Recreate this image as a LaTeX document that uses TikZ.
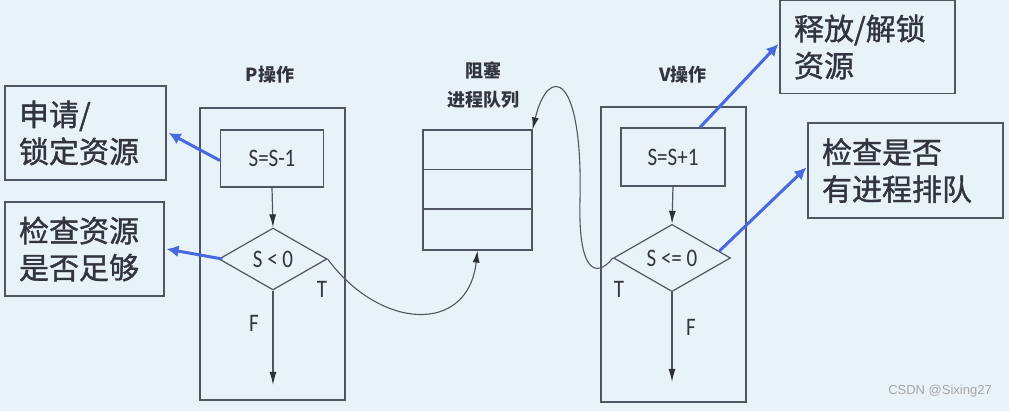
\documentclass[tikz,border=0pt]{standalone}
\usepackage{fontspec}
\usepackage{graphicx}
\setmainfont{Carlito}
\newfontfamily\cjk{Noto Sans CJK SC}
\newfontfamily\cjknote{Noto Sans CJK SC}[FakeBold=1.2]
\newfontfamily\wmfont{Liberation Sans}
\usetikzlibrary{shapes.geometric,arrows.meta,calc}
\definecolor{bg}{RGB}{232,243,249}
\definecolor{ln}{RGB}{80,85,100}
\definecolor{tip}{RGB}{45,48,60}
\definecolor{tx}{RGB}{50,53,65}
\definecolor{bl}{RGB}{72,105,222}
\newcommand{\tall}[1]{\scalebox{1}[1.2]{#1}}
\begin{document}
\begin{tikzpicture}[x=1pt,y=-1pt,
  frame/.style={draw=ln,line width=1.2pt,inner sep=0pt},
  note/.style={draw=ln,line width=1.2pt,inner xsep=14pt,inner ysep=0pt,align=left,
    text=tx,font=\cjknote\fontsize{30}{37}\selectfont},
  opbox/.style={draw=ln,line width=1.2pt,inner sep=0pt,text=tx,font=\fontsize{21}{24}\selectfont},
  cond/.style={diamond,draw=ln,line width=1.2pt,inner sep=0pt,text=tx,font=\fontsize{21}{24}\selectfont},
  title/.style={text=tx,font=\cjk\bfseries\fontsize{18}{29}\selectfont,align=center},
  tf/.style={text=tx,font=\fontsize{21}{24}\selectfont},
  flow/.style={draw=ln,line width=1.2pt,-{Latex[length=13pt,width=7pt,color=tip]}},
  curve/.style={draw=ln,line width=1.1pt,-{Latex[length=12pt,width=7pt,color=tip]}},
  hint/.style={draw=bl,line width=3pt,-{Latex[length=12pt,width=12pt]}}]
\fill[bg] (0,0) rectangle (1009,411);
\useasboundingbox (0,0) rectangle (1009,411);

% P operation
\node[frame,minimum width=145,minimum height=292] (pbox) at (272.5,254) {};
\node[title] (ptitle) at (270,75) {P操作};
\node[opbox,minimum width=103,minimum height=57] (sP) at (272,158.5) {\tall{S=S-1}};
\node[cond,minimum width=108,minimum height=62] (dP) at (273,259) {\tall{S < 0}};
\coordinate (pend) at (273,385);
\node[tf] (tP) at (322,289) {\tall{T}};
\node[tf] (fP) at (254,323) {\tall{F}};

% queue
\node[frame,minimum width=109,minimum height=120] (queue) at (477.5,190) {};
\draw[ln,line width=1.2pt] ($(queue.north west)!0.333!(queue.south west)$) -- ($(queue.north east)!0.333!(queue.south east)$);
\draw[ln,line width=1.8pt] ($(queue.north west)!0.66!(queue.south west)$) -- ($(queue.north east)!0.66!(queue.south east)$);
\node[title] (qtitle) at (483,85) {阻塞\\进程队列};

% V operation
\node[frame,minimum width=145,minimum height=295] (vbox) at (673.5,254.5) {};
\node[title] (vtitle) at (683,75) {V操作};
\node[opbox,minimum width=104,minimum height=58] (sV) at (673,157) {\tall{S=S+1}};
\node[cond,minimum width=117,minimum height=60] (dV) at (672,258) {\tall{S <= 0}};
\coordinate (vend) at (672,382);
\node[tf] (tV) at (619,289) {\tall{T}};
\node[tf] (fV) at (691,327) {\tall{F}};

% notes
\node[note,text width=133,minimum height=94] (req) at (85.5,133) {申请/\\锁定资源};
\node[note,text width=131,minimum height=94] (chk) at (84.5,249) {检查资源\\是否足够};
\node[note,text width=147,minimum height=93] (rel) at (867.5,47) {释放/解锁\\资源};
\node[note,text width=167,minimum height=95] (hv) at (905.5,170.5) {检查是否\\有进程排队};

% flow arrows
\draw[flow] (sP.south) -- (dP.north);
\draw[flow] (dP.south) -- (pend);
\draw[flow] (sV.south) -- (dV.north);
\draw[flow] (dV.south) -- (vend);

% curves
\draw[curve] (dP.east) .. controls (380,330) and (468,335) .. (queue.south);
\coordinate (loop) at (580,200);
\draw[curve] (dV.west) .. controls (595,280) and (578,270) .. (loop)
   .. controls (583,70) and (548,65) .. (queue.north east);

% hint arrows
\draw[hint] ([yshift=-2pt]sP.west) -- ([xshift=2pt]req.east);
\draw[hint] ([xshift=4pt]dP.west) -- ([xshift=2pt]chk.east);
\draw[hint] ([xshift=27pt]sV.north) -- ([xshift=-1pt,yshift=3pt]rel.west);
\draw[hint] ($(dV.east)!0.2!(dV.north)$) -- ([xshift=-1pt,yshift=3pt]hv.west);

% watermark
\node[text=black!35,font=\wmfont\fontsize{13}{15}\selectfont] (wm) at (940,391) {CSDN @Sixing27};
\end{tikzpicture}
\end{document}
